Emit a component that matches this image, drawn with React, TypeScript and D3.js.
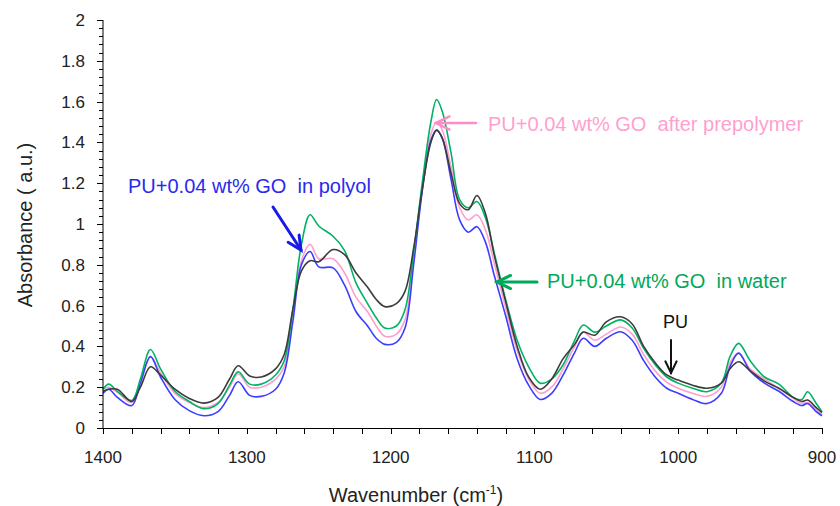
import React from 'react';
import * as d3 from 'd3';

// wavenumbers (cm-1) shared by all four spectra
const wavenumbers = [1400, 1396, 1390, 1380, 1374, 1367, 1360, 1350, 1340, 1330, 1320, 1312, 1306, 1298, 1290, 1280, 1274, 1268, 1262, 1256, 1250, 1240, 1232, 1224, 1216, 1210, 1204, 1196, 1190, 1184, 1178, 1172, 1168, 1164, 1158, 1152, 1146, 1140, 1134, 1128, 1120, 1112, 1104, 1096, 1088, 1080, 1072, 1066, 1058, 1050, 1040, 1032, 1024, 1016, 1008, 1000, 990, 980, 970, 964, 958, 950, 940, 930, 920, 914, 910, 904, 900];

const pu = [0.18, 0.19, 0.19, 0.13, 0.20, 0.30, 0.26, 0.19, 0.145, 0.122, 0.15, 0.24, 0.305, 0.255, 0.25, 0.29, 0.36, 0.58, 0.77, 0.82, 0.815, 0.875, 0.85, 0.76, 0.69, 0.63, 0.595, 0.61, 0.67, 0.88, 1.17, 1.40, 1.46, 1.42, 1.25, 1.10, 1.07, 1.14, 1.05, 0.85, 0.62, 0.40, 0.25, 0.19, 0.24, 0.34, 0.41, 0.47, 0.455, 0.52, 0.545, 0.51, 0.40, 0.32, 0.26, 0.235, 0.21, 0.195, 0.22, 0.29, 0.325, 0.28, 0.23, 0.195, 0.15, 0.13, 0.137, 0.10, 0.075];

const inWater = [0.19, 0.215, 0.18, 0.135, 0.24, 0.385, 0.29, 0.18, 0.13, 0.095, 0.12, 0.21, 0.275, 0.215, 0.215, 0.26, 0.33, 0.58, 0.90, 1.045, 0.99, 0.94, 0.87, 0.71, 0.61, 0.54, 0.49, 0.50, 0.58, 0.86, 1.20, 1.50, 1.61, 1.55, 1.35, 1.12, 1.08, 1.11, 1.03, 0.86, 0.63, 0.43, 0.30, 0.22, 0.24, 0.31, 0.43, 0.505, 0.47, 0.50, 0.53, 0.49, 0.39, 0.31, 0.25, 0.22, 0.195, 0.178, 0.22, 0.35, 0.415, 0.33, 0.25, 0.215, 0.15, 0.14, 0.178, 0.12, 0.08];

const afterPrepolymer = [0.19, 0.20, 0.175, 0.125, 0.22, 0.35, 0.27, 0.17, 0.125, 0.10, 0.125, 0.20, 0.265, 0.20, 0.20, 0.24, 0.30, 0.55, 0.82, 0.90, 0.83, 0.83, 0.76, 0.64, 0.57, 0.50, 0.45, 0.46, 0.53, 0.83, 1.18, 1.44, 1.50, 1.46, 1.28, 1.08, 1.02, 1.045, 0.97, 0.81, 0.59, 0.38, 0.24, 0.17, 0.20, 0.29, 0.40, 0.47, 0.43, 0.46, 0.495, 0.46, 0.36, 0.28, 0.225, 0.195, 0.17, 0.155, 0.20, 0.32, 0.367, 0.29, 0.24, 0.195, 0.145, 0.12, 0.125, 0.09, 0.065];

const inPolyol = [0.17, 0.19, 0.15, 0.11, 0.22, 0.35, 0.25, 0.14, 0.085, 0.06, 0.08, 0.16, 0.227, 0.16, 0.155, 0.19, 0.27, 0.52, 0.80, 0.865, 0.79, 0.785, 0.70, 0.57, 0.50, 0.44, 0.41, 0.42, 0.49, 0.80, 1.16, 1.41, 1.46, 1.42, 1.22, 1.02, 0.96, 0.987, 0.91, 0.75, 0.55, 0.34, 0.21, 0.14, 0.17, 0.26, 0.37, 0.44, 0.40, 0.44, 0.472, 0.43, 0.33, 0.25, 0.195, 0.17, 0.14, 0.12, 0.17, 0.30, 0.367, 0.28, 0.22, 0.18, 0.13, 0.11, 0.12, 0.08, 0.06];

const xTicks = [1400, 1300, 1200, 1100, 1000, 900];
const yTicks = [0, 0.2, 0.4, 0.6, 0.8, 1, 1.2, 1.4, 1.6, 1.8, 2];

const series = [
  { name: 'prepolymer', values: afterPrepolymer, color: '#ff9fcf' },
  { name: 'polyol', values: inPolyol, color: '#3d3dff' },
  { name: 'water', values: inWater, color: '#00b266' },
  { name: 'PU', values: pu, color: '#3c3c3c' }
];

const font = '"Liberation Sans", Arial, sans-serif';

function Arrow(props) {
  const { x1, y1, x2, y2, color, width, head } = props;
  const ang = Math.atan2(y2 - y1, x2 - x1);
  const hx = (a) => x2 - head * Math.cos(ang + a);
  const hy = (a) => y2 - head * Math.sin(ang + a);
  return <g stroke={color} strokeWidth={width} fill="none" strokeLinecap="round">
    <line x1={x1} y1={y1} x2={x2} y2={y2} />
    <polyline points={hx(0.45) + ',' + hy(0.45) + ' ' + x2 + ',' + y2 + ' ' + hx(-0.45) + ',' + hy(-0.45)} />
  </g>;
}

export default function App() {
  const width = 840, height = 506;
  const left = 103, right = 822, top = 20, bottom = 428;

  const x = d3.scaleLinear().domain([1400, 900]).range([left, right]);
  const y = d3.scaleLinear().domain([0, 2]).range([bottom, top]);

  const line = d3.line()
    .x((d) => x(d[0]))
    .y((d) => y(d[1]))
    .curve(d3.curveCatmullRom.alpha(0.5));

  const xMinor = d3.range(1400, 899, -20);
  const yMinor = d3.range(0, 2.001, 0.04);

  return <div style={{ position: 'absolute', left: 0, top: 0 }}>
    <svg width={width} height={height} style={{ display: 'block', background: '#fff' }} fontFamily={font}>
      {series.map((s) =>
        <path key={s.name} d={line(wavenumbers.map((w, i) => [w, s.values[i]]))} fill="none" stroke={s.color} strokeWidth={1.6} />
      )}

      <g stroke="#000" strokeWidth={1}>
        <line x1={left} y1={top} x2={left} y2={bottom} />
        <line x1={left} y1={bottom + 0.5} x2={right} y2={bottom + 0.5} />
        {yMinor.map((v, i) => <line key={'ym' + i} x1={left - (i % 5 === 0 ? 6 : 4)} x2={left} y1={Math.round(y(v)) + 0.5} y2={Math.round(y(v)) + 0.5} />)}
        {xMinor.map((v) => <line key={'xm' + v} x1={Math.round(x(v)) + 0.5} x2={Math.round(x(v)) + 0.5} y1={bottom} y2={bottom + 6} />)}
      </g>

      <g fontSize={17} fill="#222">
        {yTicks.map((v) => <text key={'yt' + v} x={left - 18} y={y(v)} dy="0.35em" textAnchor="end">{String(+v.toFixed(1))}</text>)}
        {xTicks.map((v) => <text key={'xt' + v} x={x(v)} y={463} textAnchor="middle">{v}</text>)}
      </g>

      <text transform={'translate(32,225) rotate(-90)'} textAnchor="middle" fontSize={20} fill="#222">Absorbance ( a.u.)</text>
      <text x={416} y={502} textAnchor="middle" fontSize={20} fill="#222">
        Wavenumber (cm<tspan dy="-8" fontSize={12}>-1</tspan><tspan dy="8">)</tspan>
      </text>

      <text x={128} y={193} fontSize={20} fill="#2a2aee" xmlSpace="preserve">PU+0.04 wt% GO  in polyol</text>
      <Arrow x1={273} y1={207} x2={301} y2={250} color="#1a1ae6" width={3} head={15} />

      <text x={488} y={131} fontSize={20} fill="#ff9fcf" xmlSpace="preserve">PU+0.04 wt% GO  after prepolymer</text>
      <Arrow x1={476} y1={123} x2={436} y2={123} color="#ff8cc6" width={2.5} head={15} />

      <text x={547} y={288} fontSize={20} fill="#00a85a" xmlSpace="preserve">PU+0.04 wt% GO  in water</text>
      <Arrow x1={537} y1={282} x2={497} y2={282} color="#00a85a" width={3} head={15} />

      <text x={663} y={328} fontSize={18} fill="#111">PU</text>
      <Arrow x1={671} y1={340} x2={671} y2={373} color="#111" width={2} head={13} />
    </svg>
  </div>;
}
